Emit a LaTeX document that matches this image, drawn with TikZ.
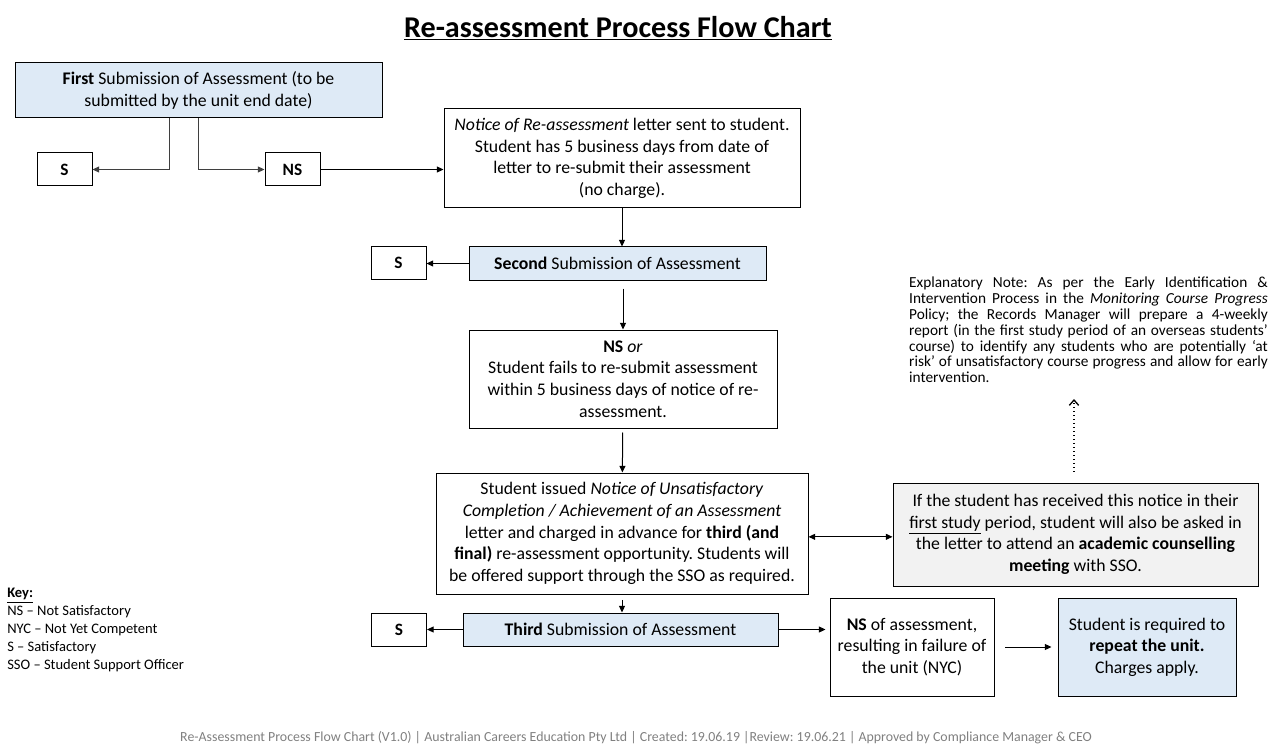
\documentclass[tikz,border=0pt]{standalone}
\usepackage{fontspec}
\setmainfont{Carlito}
\usetikzlibrary{arrows.meta,positioning,calc}
\definecolor{FlowBlueLight}{HTML}{DEEAF6}
\definecolor{FlowGreyLight}{HTML}{F2F2F2}
\definecolor{FlowLine}{HTML}{3F3F3F}
\definecolor{FlowFooter}{HTML}{808080}

\begin{document}
\frenchspacing
\begin{tikzpicture}[x=0.75pt,y=-0.75pt]
    \tikzset{flowbox/.style={draw=black,line width=0.75pt,align=center,inner sep=2pt,
      font=\fontsize{13.3}{16.2}\selectfont},
      subbox/.style={flowbox,fill=FlowBlueLight,minimum height=24.75pt},
      tagbox/.style={flowbox,minimum width=41.25pt,minimum height=24.75pt,
      font=\fontsize{13}{15}\selectfont\bfseries},
      flowarrow/.style={-{Triangle[length=5pt,width=4.5pt]},line width=0.75pt}}
    \useasboundingbox (0,0) rectangle (1270,745);
    \node[font=\fontsize{22.6}{26}\selectfont\bfseries] (title) at (618,28) {\underline{Re-assessment Process Flow Chart}};
    % first submission and its two outcomes
    \node[subbox,minimum width=275.25pt,minimum height=41.25pt] (first) at (198.5,90.5)
      {\textbf{First} Submission of Assessment (to be\\submitted by the unit end date)};
    \node[tagbox] (s1) at (64.5,169.5) {S};
    \node[tagbox] (ns1) at (292.5,169.5) {NS};
    \node[flowbox,minimum width=267pt,minimum height=74.25pt] (notice) at (622,158.5)
      {\textit{Notice of Re-assessment} letter sent to student.\\Student has 5 business days from date of\\letter to re-submit their assessment\\(no charge).};
    \node[subbox,minimum width=222.75pt] (second) at (617.5,263.5) {\textbf{Second} Submission of Assessment};
    \node[tagbox] (s2) at (398.5,263) {S};
    \node[flowbox,minimum width=231pt,minimum height=73.5pt] (nsor) at (623,379)
      {\textbf{NS} \textit{or}\\Student fails to re-submit assessment\\within 5 business days of notice of re-\\assessment.};
    \node[flowbox,minimum width=279pt,minimum height=90.75pt] (unsat) at (622,533.5)
      {Student issued \textit{Notice of Unsatisfactory}\\\textit{Completion / Achievement of an Assessment}\\letter and charged in advance for \textbf{third (and}\\\textbf{final)} re-assessment opportunity. Students will\\be offered support through the SSO as required.};
    \node[flowbox,fill=FlowGreyLight,minimum width=273.75pt,minimum height=77.25pt] (counsel) at (1075.5,534.5)
      {If the student has received this notice in their\\\underline{first study} period, student will also be asked in\\the letter to attend an \textbf{academic counselling}\\\textbf{meeting} with SSO.};
    \node[anchor=north,text width=269pt,align=justify,inner sep=0pt,
      font=\fontsize{11.5}{11.85}\selectfont] (note) at (1088.5,277)
      {\hyphenpenalty=10000\relax\tolerance=10000\relax
       Explanatory Note: As per the Early Identification \&\linebreak
       Intervention Process in the \textit{Monitoring Course Progress}\linebreak
       Policy; the Records Manager will prepare a 4-weekly\linebreak
       report (in the first study period of an overseas students'\linebreak
       course) to identify any students who are potentially `at\linebreak
       risk' of unsatisfactory course progress and allow for early\linebreak
       intervention.};
    \coordinate (notetip) at (1074,399);
    \node[subbox,minimum width=236.25pt] (third) at (620.5,629.5) {\textbf{Third} Submission of Assessment};
    \node[tagbox] (s3) at (399,629.5) {S};
    \node[flowbox,minimum width=123pt,minimum height=73.5pt] (nsfail) at (912,647)
      {\textbf{NS} of assessment,\\resulting in failure of\\the unit (NYC)};
    \node[flowbox,fill=FlowBlueLight,minimum width=133.5pt,minimum height=73.5pt] (repeat) at (1147,647)
      {Student is required to\\\textbf{repeat the unit.}\\Charges apply.};
    % key and footer
    \node[anchor=north west,align=left,inner sep=0pt,font=\fontsize{10.9}{13.5}\selectfont] (key) at (7,588)
      {\underline{\textbf{Key:}}\\NS -- Not Satisfactory\\NYC -- Not Yet Competent\\S -- Satisfactory\\SSO -- Student Support Officer};
    \node[font=\fontsize{10.4}{12}\selectfont,text=FlowFooter] (footer) at (636,738)
      {Re-Assessment Process Flow Chart (V1.0) | Australian Careers Education Pty Ltd | Created: 19.06.19 |Review: 19.06.21 | Approved by Compliance Manager \& CEO};
    % connectors
    \draw[flowarrow,FlowLine] ([xshift=-22pt]first.south) |- (s1.east);
    \draw[flowarrow,FlowLine] (first.south) |- (ns1.west);
    \draw[flowarrow] (ns1.east) -- (ns1.east -| notice.west);
    \draw[flowarrow] (notice.south) -- (notice.south |- second.north);
    \draw[flowarrow] (second.west) -- (second.west -| s2.east);
    \draw[flowarrow,shorten <=6pt] (second.south -| nsor.north) -- (nsor.north);
    \draw[flowarrow,shorten <=3pt] (nsor) -- (unsat);
    \draw[flowarrow,shorten <=4pt] (unsat.south) -- (unsat.south |- third.north);
    \draw[{Triangle[length=5pt,width=4.5pt]}-{Triangle[length=5pt,width=4.5pt]},line width=0.75pt]
      ([yshift=-2.5pt]unsat.east) -- ([yshift=-2.5pt]unsat.east -| counsel.west);
    \draw[-{Straight Barb[length=4pt,width=7pt]},line width=1pt,dotted,shorten <=8pt] (counsel.north -| notetip) -- (notetip);
    \draw[flowarrow] (third.west) -- (third.west -| s3.east);
    \draw[flowarrow,shorten >=3pt] (third.east) -- (third.east -| nsfail.west);
    \draw[flowarrow,shorten <=8pt,shorten >=4.5pt] (nsfail.east) -- (nsfail.east -| repeat.west);
\end{tikzpicture}
\end{document}
